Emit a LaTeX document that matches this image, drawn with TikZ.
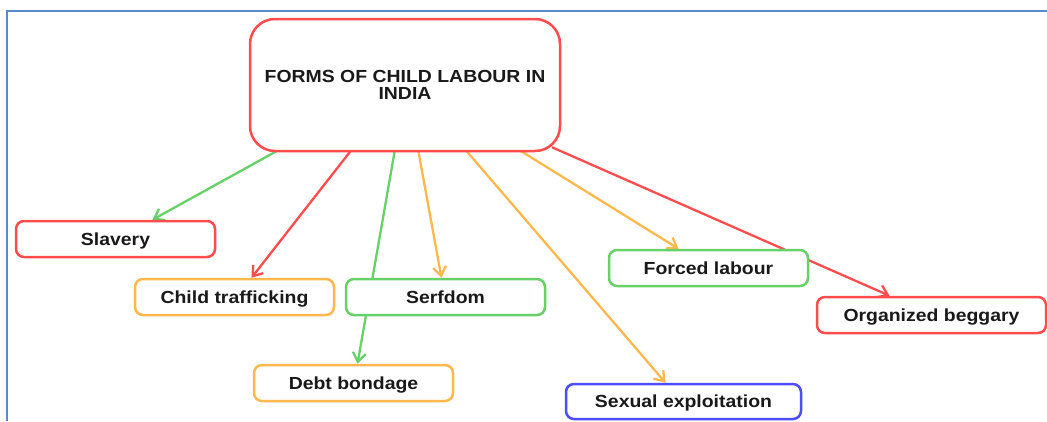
\documentclass[tikz,border=0pt]{standalone}
\usepackage{fontspec}
\setmainfont{Liberation Sans}[FakeStretch=1.11]
\usepackage{xcolor}
\usetikzlibrary{arrows.meta, positioning, backgrounds}
\definecolor{mapred}{HTML}{FF4D4D}
\definecolor{mapgreen}{HTML}{66D166}
\definecolor{maporange}{HTML}{FFB84D}
\definecolor{mapblue}{HTML}{4D4DFF}
\definecolor{mapframe}{HTML}{5A8AC6}

\begin{document}
\begin{tikzpicture}[x=1pt, y=-1pt,
  box/.style={draw, line width=2.5pt, fill=white, inner sep=0pt,
    font=\bfseries\fontsize{17.5}{16.5}\selectfont, text=black!90},
  leaf/.style={box, rounded corners=8pt, minimum width=199pt, minimum height=36pt,
    text height=12.5pt, text depth=0pt},
  hub/.style={box, rounded corners=25pt, minimum width=310pt, minimum height=132pt, align=center},
  link/.style={line width=2.3pt, -{Straight Barb[length=9pt,width=13pt]}}]
\useasboundingbox (0,0) rectangle (1047,421);

% Frame
\draw[mapframe, line width=2pt] (1047,11) -- (7,11) -- (7,421);

% Central node
\node[hub, draw=mapred] (root) at (405,85) {FORMS OF CHILD LABOUR IN\\INDIA};

% Forms
\node[leaf, draw=mapred] (slavery) at (115.5,239) {Slavery};
\node[leaf, draw=maporange] (trafficking) at (234.5,297) {Child trafficking};
\node[leaf, draw=mapgreen] (serfdom) at (445.5,297) {Serfdom};
\node[leaf, draw=maporange] (bondage) at (353.5,383) {Debt bondage};
\node[leaf, draw=mapgreen] (forced) at (708.5,268) {Forced labour};
\node[leaf, draw=mapblue, minimum width=235pt, minimum height=35pt] (sexual) at (683.5,401.5) {Sexual exploitation};
\node[leaf, draw=mapred, minimum width=229pt] (beggary) at (931.5,315) {Organized beggary};

% Links
\begin{scope}[on background layer]
\draw[link, mapgreen] ([xshift=-125pt,yshift=3pt]root.south) -- ([xshift=37pt]slavery.north);
\draw[link, mapred] ([xshift=-53pt,yshift=3pt]root.south) -- ([xshift=17pt]trafficking.north);
\draw[link, mapgreen] ([xshift=-10pt,yshift=3pt]root.south) -- ([xshift=4pt]bondage.north);
\draw[link, maporange] ([xshift=13pt,yshift=3pt]root.south) -- ([xshift=-4pt]serfdom.north);
\draw[link, maporange] ([xshift=60pt,yshift=3pt]root.south) -- ([xshift=-18pt]sexual.north);
\draw[link, maporange] ([xshift=113pt,yshift=3pt]root.south) -- ([xshift=-30pt]forced.north);
\draw[link, mapred] ([xshift=147pt,yshift=5pt]root.south) -- ([xshift=-42pt]beggary.north);
\end{scope}
\end{tikzpicture}
\end{document}
